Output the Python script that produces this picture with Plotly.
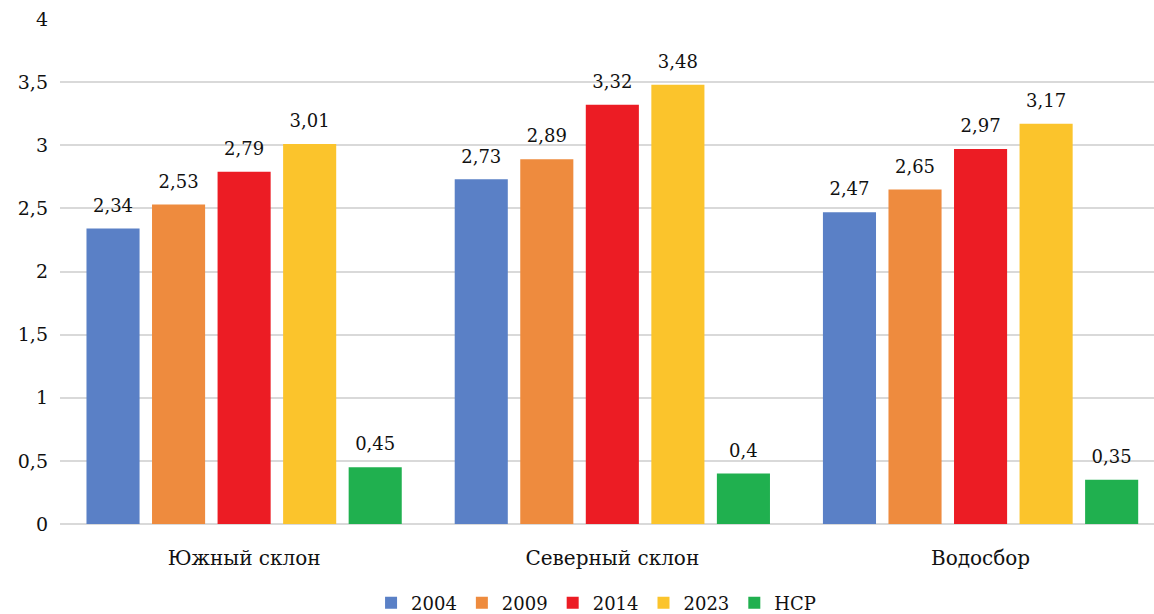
import plotly.graph_objects as go

categories = ["Южный склон", "Северный склон", "Водосбор"]
series_names = ["2004", "2009", "2014", "2023", "НСР"]
v2004 = [2.34, 2.73, 2.47]
v2009 = [2.53, 2.89, 2.65]
v2014 = [2.79, 3.32, 2.97]
v2023 = [3.01, 3.48, 3.17]
vhcp = [0.45, 0.40, 0.35]
colors = ["#5a80c6", "#ee8b3e", "#ec1c24", "#fbc42c", "#20b04f"]

FONT = "DejaVu Serif"
GAP = 0.11

fig = go.Figure()
all_vals = [v2004, v2009, v2014, v2023, vhcp]
for name, vals, col in zip(series_names, all_vals, colors):
    fig.add_trace(go.Bar(
        x=categories, y=vals, name=name, offsetgroup=name,
        marker=dict(color=col, line=dict(width=0)),
        hoverinfo="skip",
    ))
for name, vals in zip(series_names, all_vals):
    fig.add_trace(go.Scatter(
        x=categories, y=vals, name=name + " labels", offsetgroup=name,
        mode="markers+text", showlegend=False,
        marker=dict(size=18, opacity=0),
        text=vals, texttemplate="%{y}", textposition="top center",
        textfont=dict(family=FONT, size=18, color="#111"),
        cliponaxis=False, hoverinfo="skip",
    ))

fig.update_layout(
    width=1154, height=614,
    margin=dict(l=60, r=0, t=19, b=90),
    paper_bgcolor="white", plot_bgcolor="white",
    separators=", ",
    barmode="group", bargap=GAP, bargroupgap=0.19,
    scattermode="group", scattergap=GAP,
    font=dict(family=FONT, size=18, color="#111"),
    showlegend=True,
    legend=dict(orientation="h", x=0.49, xanchor="center",
                yref="container", y=0.018, yanchor="middle",
                font=dict(family=FONT, size=18), itemwidth=30, traceorder="normal"),
    xaxis=dict(range=[-0.5, 2.471], showgrid=False, showline=False, ticks="",
               tickfont=dict(family=FONT, size=20), ticklabelstandoff=20),
    yaxis=dict(range=[0, 4], dtick=0.5, showgrid=True, gridcolor="#d9d9d9", gridwidth=1.5,
               zeroline=True, zerolinecolor="#d9d9d9", zerolinewidth=1.5,
               showline=False, ticks="", tickfont=dict(family=FONT, size=19), ticklabelstandoff=11),
)
fig.write_html("out.html")
